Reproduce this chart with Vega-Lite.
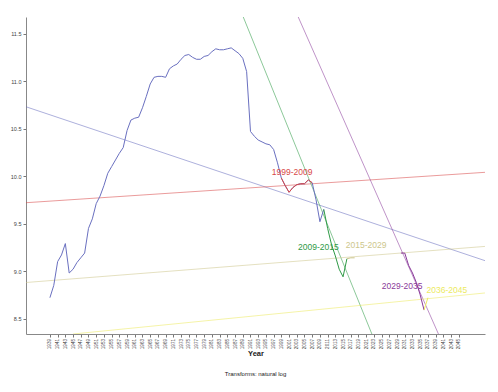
{
  "$schema": "https://vega.github.io/schema/vega-lite/v6.json",
  "width": 459,
  "height": 317,
  "autosize": "none",
  "padding": {"left": 26, "top": 17, "right": 13, "bottom": 58},
  "background": "white",
  "config": {
    "view": {"stroke": null},
    "font": "Liberation Sans"
  },
  "title": {
    "text": "Transforms: natural log",
    "orient": "bottom",
    "anchor": "middle",
    "fontSize": 6,
    "fontWeight": "normal",
    "color": "#222222",
    "offset": 14
  },
  "datasets": {
    "obs": [
      {"series": "Total", "year": 1939, "v": 8.72},
      {"series": "Total", "year": 1940, "v": 8.85},
      {"series": "Total", "year": 1941, "v": 9.10},
      {"series": "Total", "year": 1942, "v": 9.17},
      {"series": "Total", "year": 1943, "v": 9.29},
      {"series": "Total", "year": 1944, "v": 8.98},
      {"series": "Total", "year": 1945, "v": 9.02},
      {"series": "Total", "year": 1946, "v": 9.09},
      {"series": "Total", "year": 1947, "v": 9.14},
      {"series": "Total", "year": 1948, "v": 9.19},
      {"series": "Total", "year": 1949, "v": 9.45},
      {"series": "Total", "year": 1950, "v": 9.55},
      {"series": "Total", "year": 1951, "v": 9.71},
      {"series": "Total", "year": 1952, "v": 9.79},
      {"series": "Total", "year": 1953, "v": 9.90},
      {"series": "Total", "year": 1954, "v": 10.03},
      {"series": "Total", "year": 1955, "v": 10.10},
      {"series": "Total", "year": 1956, "v": 10.17},
      {"series": "Total", "year": 1957, "v": 10.24},
      {"series": "Total", "year": 1958, "v": 10.30},
      {"series": "Total", "year": 1959, "v": 10.48},
      {"series": "Total", "year": 1960, "v": 10.59},
      {"series": "Total", "year": 1961, "v": 10.61},
      {"series": "Total", "year": 1962, "v": 10.62},
      {"series": "Total", "year": 1963, "v": 10.72},
      {"series": "Total", "year": 1964, "v": 10.84},
      {"series": "Total", "year": 1965, "v": 10.97},
      {"series": "Total", "year": 1966, "v": 11.04},
      {"series": "Total", "year": 1967, "v": 11.05},
      {"series": "Total", "year": 1968, "v": 11.05},
      {"series": "Total", "year": 1969, "v": 11.04},
      {"series": "Total", "year": 1970, "v": 11.13},
      {"series": "Total", "year": 1971, "v": 11.16},
      {"series": "Total", "year": 1972, "v": 11.18},
      {"series": "Total", "year": 1973, "v": 11.23},
      {"series": "Total", "year": 1974, "v": 11.27},
      {"series": "Total", "year": 1975, "v": 11.28},
      {"series": "Total", "year": 1976, "v": 11.25},
      {"series": "Total", "year": 1977, "v": 11.23},
      {"series": "Total", "year": 1978, "v": 11.23},
      {"series": "Total", "year": 1979, "v": 11.26},
      {"series": "Total", "year": 1980, "v": 11.27},
      {"series": "Total", "year": 1981, "v": 11.31},
      {"series": "Total", "year": 1982, "v": 11.34},
      {"series": "Total", "year": 1983, "v": 11.33},
      {"series": "Total", "year": 1984, "v": 11.33},
      {"series": "Total", "year": 1985, "v": 11.34},
      {"series": "Total", "year": 1986, "v": 11.35},
      {"series": "Total", "year": 1987, "v": 11.32},
      {"series": "Total", "year": 1988, "v": 11.29},
      {"series": "Total", "year": 1989, "v": 11.24},
      {"series": "Total", "year": 1990, "v": 11.10},
      {"series": "Total", "year": 1991, "v": 10.47},
      {"series": "Total", "year": 1992, "v": 10.42},
      {"series": "Total", "year": 1993, "v": 10.38},
      {"series": "Total", "year": 1994, "v": 10.36},
      {"series": "Total", "year": 1995, "v": 10.34},
      {"series": "Total", "year": 1996, "v": 10.33},
      {"series": "Total", "year": 1997, "v": 10.28},
      {"series": "Total", "year": 1998, "v": 10.14},
      {"series": "Total", "year": 1999, "v": 9.98},
      {"series": "Total", "year": 2000, "v": 9.90},
      {"series": "Total", "year": 2001, "v": 9.83},
      {"series": "Total", "year": 2002, "v": 9.88},
      {"series": "Total", "year": 2003, "v": 9.91},
      {"series": "Total", "year": 2004, "v": 9.92},
      {"series": "Total", "year": 2005, "v": 9.92},
      {"series": "Total", "year": 2006, "v": 9.96},
      {"series": "Total", "year": 2007, "v": 9.93},
      {"series": "Total", "year": 2008, "v": 9.75},
      {"series": "Total", "year": 2009, "v": 9.52},
      {"series": "Total", "year": 2010, "v": 9.65},
      {"series": "1999-2009", "year": 1999, "v": 9.98},
      {"series": "1999-2009", "year": 2000, "v": 9.90},
      {"series": "1999-2009", "year": 2001, "v": 9.83},
      {"series": "1999-2009", "year": 2002, "v": 9.88},
      {"series": "1999-2009", "year": 2003, "v": 9.91},
      {"series": "1999-2009", "year": 2004, "v": 9.92},
      {"series": "1999-2009", "year": 2005, "v": 9.92},
      {"series": "1999-2009", "year": 2006, "v": 9.96},
      {"series": "1999-2009", "year": 2007, "v": 9.93},
      {"series": "2009-2015", "year": 2010, "v": 9.65},
      {"series": "2009-2015", "year": 2011, "v": 9.45},
      {"series": "2009-2015", "year": 2012, "v": 9.28},
      {"series": "2009-2015", "year": 2013, "v": 9.16},
      {"series": "2009-2015", "year": 2014, "v": 9.02},
      {"series": "2009-2015", "year": 2015, "v": 8.94},
      {"series": "2009-2015", "year": 2016, "v": 9.13},
      {"series": "2015-2029", "year": 2016, "v": 9.13},
      {"series": "2015-2029", "year": 2017, "v": 9.14},
      {"series": "2015-2029", "year": 2018, "v": 9.14},
      {"series": "2029-2035", "year": 2030, "v": 9.19},
      {"series": "2029-2035", "year": 2031, "v": 9.19},
      {"series": "2029-2035", "year": 2032, "v": 9.06},
      {"series": "2029-2035", "year": 2033, "v": 8.98},
      {"series": "2029-2035", "year": 2034, "v": 8.88},
      {"series": "2029-2035", "year": 2035, "v": 8.75},
      {"series": "2029-2035", "year": 2036, "v": 8.59},
      {"series": "2036-2045", "year": 2036, "v": 8.59},
      {"series": "2036-2045", "year": 2037, "v": 8.72}
    ],
    "fits": [
      {"series": "Total", "year": 1932.8, "v": 10.73},
      {"series": "Total", "year": 2051.8, "v": 9.11},
      {"series": "1999-2009", "year": 1932.8, "v": 9.72},
      {"series": "1999-2009", "year": 2051.8, "v": 10.04},
      {"series": "2009-2015", "year": 1989.13, "v": 11.675},
      {"series": "2009-2015", "year": 2022.47, "v": 8.338},
      {"series": "2015-2029", "year": 1932.8, "v": 8.88},
      {"series": "2015-2029", "year": 2051.8, "v": 9.26},
      {"series": "2029-2035", "year": 2003.38, "v": 11.675},
      {"series": "2029-2035", "year": 2039.73, "v": 8.338},
      {"series": "2036-2045", "year": 1945.0, "v": 8.338},
      {"series": "2036-2045", "year": 2051.8, "v": 8.77}
    ],
    "labels": [
      {"series": "1999-2009", "year": 2001.8, "v": 10.04, "label": "1999-2009"},
      {"series": "2009-2015", "year": 2008.6, "v": 9.25, "label": "2009-2015"},
      {"series": "2015-2029", "year": 2021.0, "v": 9.27, "label": "2015-2029"},
      {"series": "2029-2035", "year": 2030.3, "v": 8.84, "label": "2029-2035"},
      {"series": "2036-2045", "year": 2041.9, "v": 8.80, "label": "2036-2045"}
    ]
  },
  "encoding": {
    "x": {
      "field": "year",
      "type": "quantitative",
      "scale": {"domain": [1932.8, 2051.8], "nice": false, "zero": false},
      "axis": {
        "title": "Year",
        "titleFontSize": 7.5,
        "titleFontWeight": "bold",
        "titleColor": "#222222",
        "titlePadding": 1,
        "values": [1939,1941,1943,1945,1947,1949,1951,1953,1955,1957,1959,1961,1963,1965,1967,1969,1971,1973,1975,1977,1979,1981,1983,1985,1987,1989,1991,1993,1995,1997,1999,2001,2003,2005,2007,2009,2011,2013,2015,2017,2019,2021,2023,2025,2027,2029,2031,2033,2035,2037,2039,2041,2043,2045],
        "format": "d",
        "labelAngle": -90,
        "labelFontSize": 4.6,
        "labelColor": "#444444",
        "labelOverlap": false,
        "labelPadding": 1.5,
        "tickSize": 3,
        "tickColor": "#777777",
        "domainColor": "#888888",
        "grid": false
      }
    },
    "y": {
      "field": "v",
      "type": "quantitative",
      "scale": {"domain": [8.338, 11.675], "nice": false, "zero": false},
      "axis": {
        "title": null,
        "values": [8.5, 9.0, 9.5, 10.0, 10.5, 11.0, 11.5],
        "format": ".1f",
        "labelFontSize": 5.5,
        "labelColor": "#444444",
        "tickSize": 3,
        "tickColor": "#777777",
        "domainColor": "#888888",
        "grid": false
      }
    },
    "color": {
      "field": "series",
      "type": "nominal",
      "legend": null,
      "scale": {
        "domain": ["Total", "1999-2009", "2009-2015", "2015-2029", "2029-2035", "2036-2045"],
        "range": ["#6a70c0", "#d84848", "#2e9a46", "#cdc68c", "#8a3a9a", "#ecea60"]
      }
    }
  },
  "layer": [
    {
      "data": {"name": "fits"},
      "mark": {"type": "line", "strokeWidth": 1, "opacity": 0.55, "clip": true},
      "encoding": {"detail": {"field": "series"}}
    },
    {
      "data": {"name": "obs"},
      "mark": {"type": "line", "strokeWidth": 1},
      "encoding": {"detail": {"field": "series"}}
    },
    {
      "data": {"name": "labels"},
      "mark": {"type": "text", "fontSize": 8.5, "align": "center", "baseline": "middle"},
      "encoding": {"text": {"field": "label"}}
    }
  ]
}
